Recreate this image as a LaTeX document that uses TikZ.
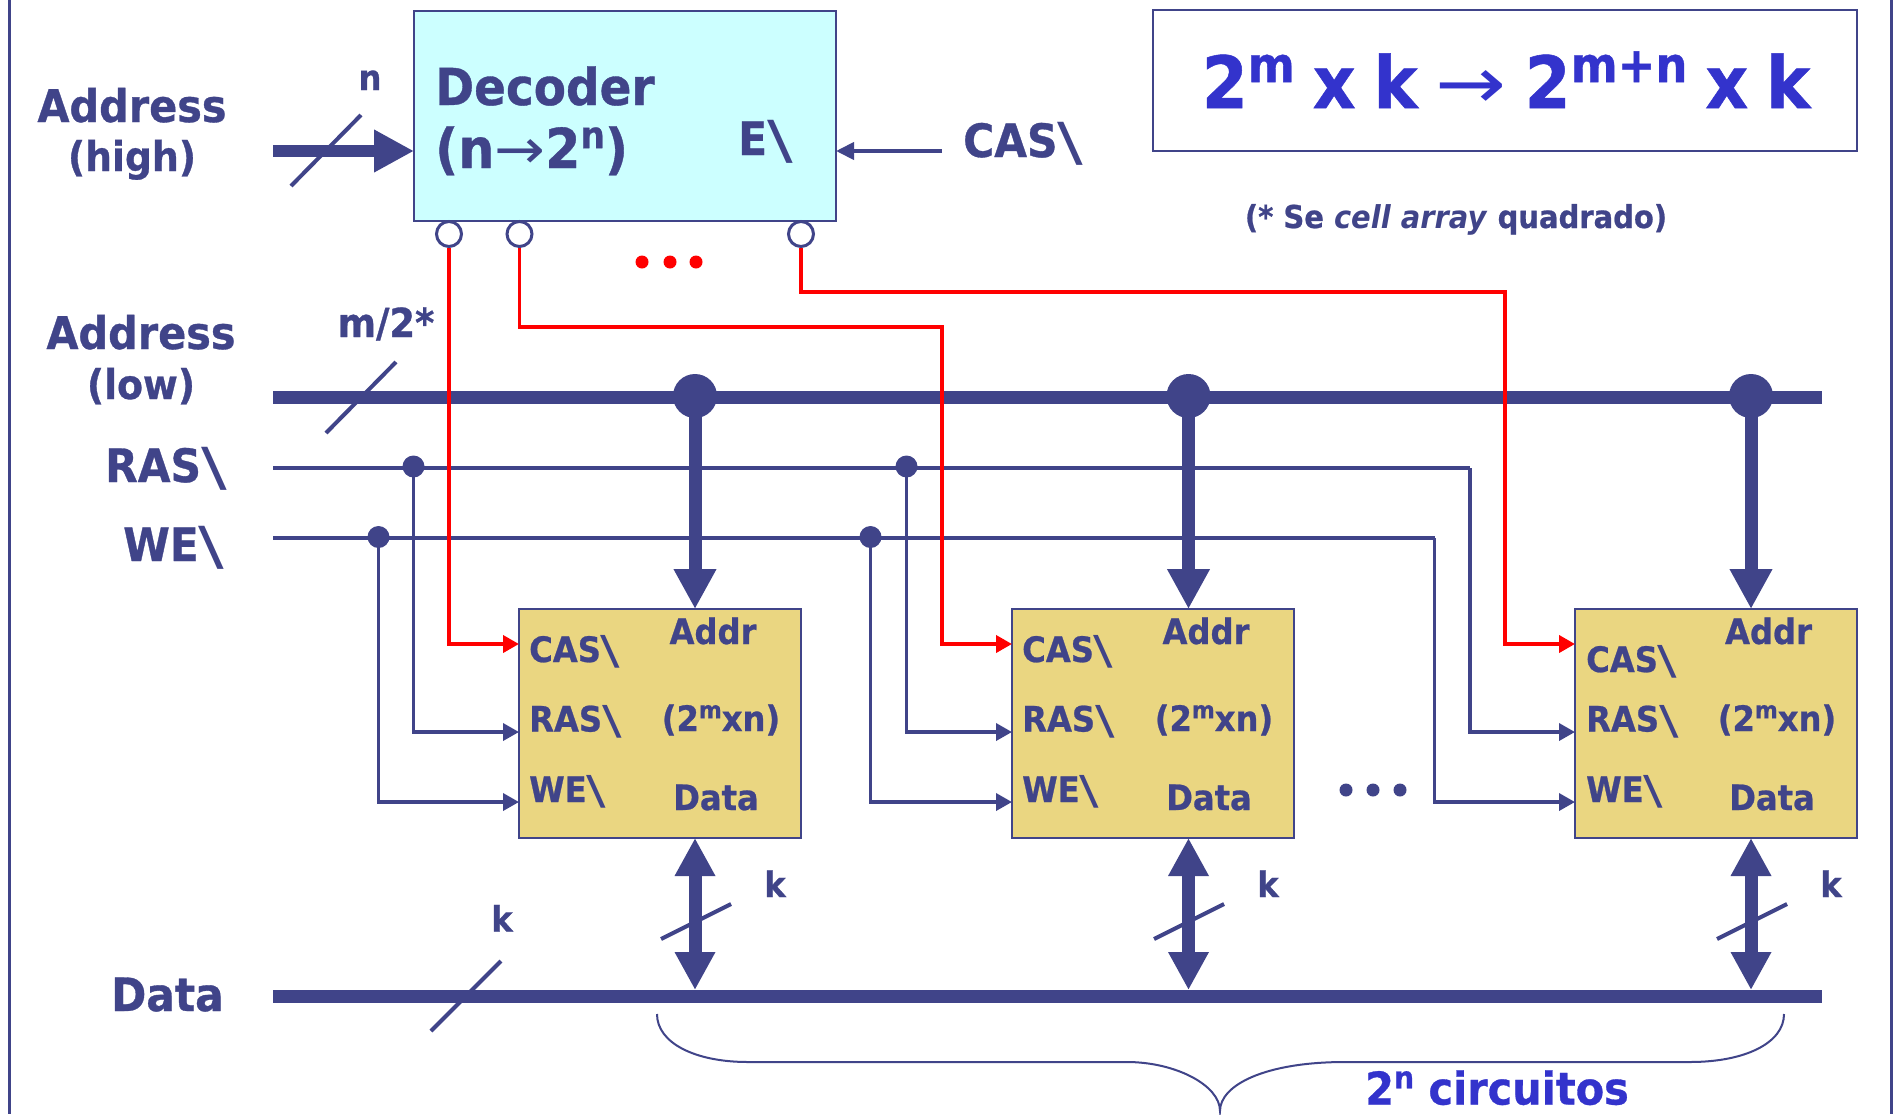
\documentclass[tikz,border=0pt]{standalone}
\usepackage{fontspec}
\usepackage{graphicx}
\usetikzlibrary{arrows.meta}
\setmainfont[FakeStretch=0.92,BoldFeatures={FakeBold=0.7}]{DejaVu Sans}
\definecolor{navy}{HTML}{404489}
\definecolor{royal}{HTML}{3333CC}
\definecolor{cyanbox}{HTML}{CCFFFF}
\definecolor{goldbox}{HTML}{EAD681}
\newcommand{\sz}[1]{\fontsize{#1}{#1}\selectfont\bfseries}
\newcommand{\myup}[1]{\raisebox{.36em}{\scalebox{.68}{#1}}}
\newcommand{\thinarrow}{\scalebox{1.2}[1]{\mdseries →}}
\newcommand{\widearrow}{\scalebox{1.28}[1]{\mdseries →}}
\newcommand{\bs}{\raisebox{-.08em}{\scalebox{1.8}[1.14]{\mdseries\textbackslash}}}
\tikzset{
  lbl/.style={inner sep=0pt,text=navy,anchor=base,font=\sz{46}},
  lblw/.style={lbl,anchor=base west},
  boxlbl/.style={lblw,font=\sz{35}},
  boxlblc/.style={lbl,font=\sz{35}},
  wire/.style={navy,line width=3.5pt,line join=miter},
  redwire/.style={red,line width=3.8pt,line join=miter},
  thinhead/.style={-{Triangle[length=16pt,width=17pt]}},
  bus/.style={navy,line width=13pt},
  slash/.style={navy,line width=4pt},
  bighead/.style={-{Triangle[length=40pt,width=40pt]}},
  bighead2/.style={{Triangle[length=38pt,width=38pt]}-{Triangle[length=38pt,width=38pt]}},
  bigdot/.style={circle,fill=navy,inner sep=0pt,minimum size=44pt},
  smalldot/.style={circle,fill=navy,inner sep=0pt,minimum size=22pt},
  outcirc/.style={circle,draw=navy,line width=3pt,fill=white,inner sep=0pt,minimum size=25pt},
  tdot/.style={circle,inner sep=0pt,minimum size=13pt},
  membox/.style={draw=navy,line width=2.5pt,fill=goldbox,anchor=north west,inner sep=0pt,outer sep=0pt,minimum width=282pt,minimum height=229pt},
}
\begin{document}
\begin{tikzpicture}[x=1pt,y=-1pt]
\useasboundingbox (0,0) rectangle (1894,1114);
\fill[white] (0,0) rectangle (1894,1114);
% side rules
\coordinate (lt) at (9,0); \coordinate (lb) at (9,1114);
\coordinate (rt) at (1891,0); \coordinate (rb) at (1891,1114);
\draw[navy,line width=3pt] (lt) -- (lb);
\draw[navy,line width=3pt] (rt) -- (rb);
% boxes
\node[draw=navy,line width=2.5pt,fill=cyanbox,anchor=north west,inner sep=0pt,outer sep=0pt,minimum width=422pt,minimum height=210pt] (dec) at (414,11) {};
\node[draw=navy,line width=2.5pt,anchor=north west,inner sep=0pt,outer sep=0pt,minimum width=704pt,minimum height=141pt] (formula) at (1153,10) {};
\node[membox] (m1) at (519,609) {};
\node[membox] (m2) at (1012,609) {};
\node[membox] (m3) at (1575,609) {};
% buses
\coordinate (al) at (273,397); \coordinate (ar) at (1822,397);
\coordinate (dl) at (273,996); \coordinate (dr) at (1822,996);
\draw[bus] (al) -- (ar);
\draw[bus] (dl) -- (dr);
% address high
\coordinate (ah) at (273,151);
\draw[bus,line width=12.5pt,bighead] (ah) -- (dec.west |- ah);
\coordinate (s1a) at (291,186); \coordinate (s1b) at (361,115);
\draw[slash] (s1a) -- (s1b);
\coordinate (s2a) at (326,433); \coordinate (s2b) at (396,362);
\draw[slash] (s2a) -- (s2b);
\coordinate (s3a) at (431,1031); \coordinate (s3b) at (501,961);
\draw[slash] (s3a) -- (s3b);
% CAS input
\coordinate (casin) at (942,151);
\draw[wire,line width=4pt,-{Triangle[length=18pt,width=17pt]}] (casin) -- (dec.east |- casin);
% RAS / WE lines
\coordinate (rasl) at (273,468); \coordinate (wel) at (273,538);
\coordinate (rasr) at (1470,468); \coordinate (wer) at (1434.5,538);
\node[smalldot] (rd1) at (413.5,466.5) {};
\node[smalldot] (rd2) at (906.5,466.5) {};
\node[smalldot] (wd1) at (378.5,537) {};
\node[smalldot] (wd2) at (870.5,537) {};
\coordinate (r1) at (519,732); \coordinate (r2) at (1012,732); \coordinate (r3) at (1575,732);
\coordinate (w1) at (519,802); \coordinate (w2) at (1012,802); \coordinate (w3) at (1575,802);
\draw[wire] (rasl) -- (rasr);
\draw[wire] (wel) -- (wer);
\draw[wire,thinhead] (rd1.center) |- (r1);
\draw[wire,thinhead] (rd2.center) |- (r2);
\draw[wire,thinhead] (rasr) |- (r3);
\draw[wire,thinhead] (wd1.center) |- (w1);
\draw[wire,thinhead] (wd2.center) |- (w2);
\draw[wire,thinhead] (wer) |- (w3);
% address taps and data arrows
\node[bigdot] (t1) at (695,396) {};
\node[bigdot] (t2) at (1188.5,396) {};
\node[bigdot] (t3) at (1751,396) {};
\coordinate (u1) at (695,609); \coordinate (u2) at (1188.5,609); \coordinate (u3) at (1751,609);
\draw[bus,bighead] (t1.center) -- (u1);
\draw[bus,bighead] (t2.center) -- (u2);
\draw[bus,bighead] (t3.center) -- (u3);
\coordinate (v1) at (695,838); \coordinate (v2) at (1188.5,838); \coordinate (v3) at (1751,838);
\coordinate (b1) at (695,990); \coordinate (b2) at (1188.5,990); \coordinate (b3) at (1751,990);
\draw[bus,bighead2] (v1) -- (b1);
\draw[bus,bighead2] (v2) -- (b2);
\draw[bus,bighead2] (v3) -- (b3);
\coordinate (k1a) at (661,939); \coordinate (k1b) at (731,904);
\coordinate (k2a) at (1154,939); \coordinate (k2b) at (1224,904);
\coordinate (k3a) at (1717,939); \coordinate (k3b) at (1787,904);
\draw[slash] (k1a) -- (k1b);
\draw[slash] (k2a) -- (k2b);
\draw[slash] (k3a) -- (k3b);
% decoder outputs
\node[outcirc] (c1) at (449,234) {};
\node[outcirc] (c2) at (519.5,234) {};
\node[outcirc] (c3) at (801,234) {};
\coordinate (cas1) at (519,644); \coordinate (cas2) at (1012,644); \coordinate (cas3) at (1575,644);
\coordinate (e2a) at (519.5,327); \coordinate (e2b) at (942,327);
\coordinate (e3a) at (801,292); \coordinate (e3b) at (1505,292);
\draw[redwire,-{Triangle[length=16pt,width=17pt]}] (c1.south) |- (cas1);
\draw[redwire,-{Triangle[length=16pt,width=17pt]}] (c2.south) -- (e2a) -- (e2b) |- (cas2);
\draw[redwire,-{Triangle[length=16pt,width=17pt]}] (c3.south) -- (e3a) -- (e3b) |- (cas3);
% ellipsis dots
\node[tdot,fill=red] (rdot1) at (642,262) {};
\node[tdot,fill=red] (rdot2) at (670,262) {};
\node[tdot,fill=red] (rdot3) at (696,262) {};
\node[tdot,fill=navy] (ndot1) at (1346,790) {};
\node[tdot,fill=navy] (ndot2) at (1373,790) {};
\node[tdot,fill=navy] (ndot3) at (1400,790) {};
% brace
\draw[navy,line width=2pt] (657,1014) .. controls (657,1043) and (695,1062) .. (748,1062) -- (1127,1062)
  .. controls (1175,1062) and (1220,1085) .. (1220,1111)
  .. controls (1220,1085) and (1265,1062) .. (1345,1062) -- (1690,1062)
  .. controls (1745,1062) and (1784,1043) .. (1784,1014);
% texts
\node[lblw,font=\sz{51}] (tdec) at (435,105) {Decoder};
\node[lblw,font=\sz{55}] (tdec2) at (435,168) {(n\thinarrow2\myup{n})};
\node[lblw] (te) at (738,155) {E\bs};
\node[lblw] (tcas) at (963,157) {CAS\bs};
\node[lbl,font=\sz{45}] (tah) at (132,122) {Address};
\node[lbl,font=\sz{41}] (tah2) at (132,171) {(high)};
\node[lbl,font=\sz{45}] (tal) at (141,349) {Address};
\node[lbl,font=\sz{41}] (tal2) at (141,399) {(low)};
\node[lbl,font=\sz{35}] (tn) at (370,90) {n};
\node[lbl,font=\sz{40}] (tm) at (386,337) {m/2*};
\node[lblw] (tras) at (105,482) {RAS\bs};
\node[lblw] (twe) at (123,561) {WE\bs};
\node[lblw] (tdata) at (111,1011) {Data};
\node[lbl,font=\sz{35}] (tk0) at (502,931.5) {k};
\node[lbl,font=\sz{35}] (tk1) at (775,897) {k};
\node[lbl,font=\sz{35}] (tk2) at (1268,897) {k};
\node[lbl,font=\sz{35}] (tk3) at (1831,897) {k};
% memory 1
\node[boxlbl] (c1t) at (529,662) {CAS\bs};
\node[boxlbl] (r1t) at (529,731.5) {RAS\bs};
\node[boxlbl] (w1t) at (529,802) {WE\bs};
\node[boxlblc] (a1t) at (713,644) {Addr};
\node[boxlblc] (s1t) at (721,731) {(2\myup{m}xn)};
\node[boxlblc] (d1t) at (716,810) {Data};
% memory 2
\node[boxlbl] (c2t) at (1022,662) {CAS\bs};
\node[boxlbl] (r2t) at (1022,731.5) {RAS\bs};
\node[boxlbl] (w2t) at (1022,802) {WE\bs};
\node[boxlblc] (a2t) at (1206,644) {Addr};
\node[boxlblc] (s2t) at (1214,731) {(2\myup{m}xn)};
\node[boxlblc] (d2t) at (1209,810) {Data};
% memory 3
\node[boxlbl] (c3t) at (1586,672) {CAS\bs};
\node[boxlbl] (r3t) at (1586,731.5) {RAS\bs};
\node[boxlbl] (w3t) at (1586,802) {WE\bs};
\node[boxlblc] (a3t) at (1768.5,644) {Addr};
\node[boxlblc] (s3t) at (1777,731) {(2\myup{m}xn)};
\node[boxlblc] (d3t) at (1772,810) {Data};
% formula & notes
\node[lbl,text=royal,font=\sz{72}] (tf) at (1506,108) {2\myup{m}\hspace{.25em}x\hspace{.25em}k\hspace{.25em}\widearrow\hspace{.25em}2\myup{m+n}\hspace{.25em}x\hspace{.25em}k};
\node[lbl,font=\sz{31.5}] (tnote) at (1456,228) {(* Se \textit{cell array} quadrado)};
\node[lbl,text=royal,font=\sz{45}] (tcirc) at (1497,1104.5) {2\myup{n} circuitos};
\end{tikzpicture}
\end{document}
